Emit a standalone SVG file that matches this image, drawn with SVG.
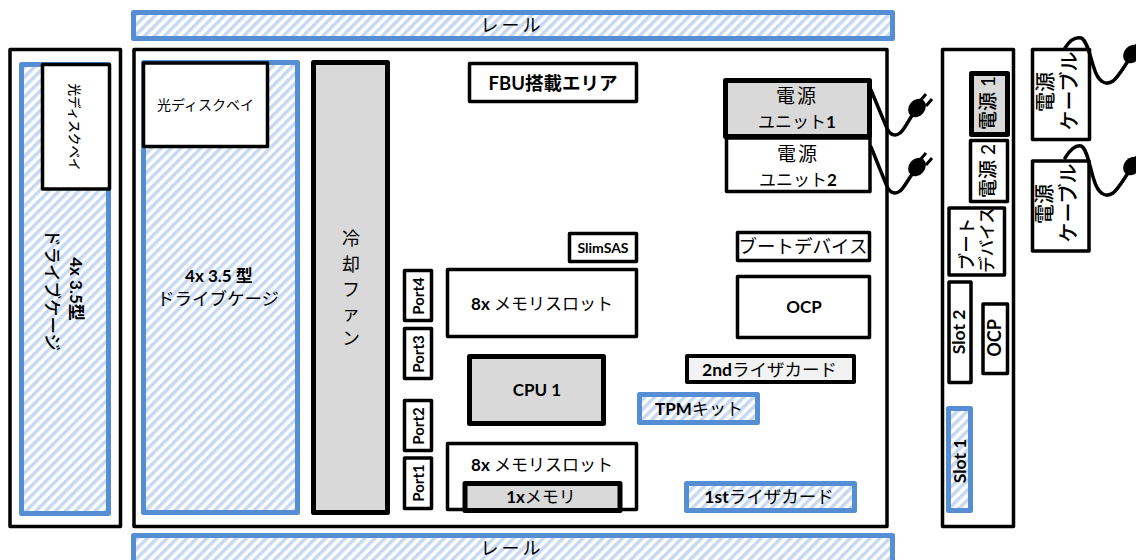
<svg xmlns="http://www.w3.org/2000/svg" width="1136" height="560" viewBox="0 0 1136 560">
<style>
text{font-family:Lato,"Noto Sans CJK JP","Liberation Sans",sans-serif;font-size:17px;fill:#000;text-anchor:middle}
.b{font-weight:700}
.m{font-weight:500}
.box{fill:#fff;stroke:#000;stroke-width:3.500;stroke-linejoin:round}
.grey{fill:#d9d9d9;stroke:#000;stroke-width:5;stroke-linejoin:round}
.hatch{fill:url(#h);stroke:#558ed5;stroke-width:5;stroke-linejoin:round}
.cable{fill:none;stroke:#000;stroke-width:3.500;stroke-linecap:round}
.prong{stroke:#000;stroke-width:3;fill:none}
</style>
<defs>
<pattern id="h" width="7" height="7" patternUnits="userSpaceOnUse" patternTransform="rotate(45)">
<rect width="7" height="7" fill="#fff"/>
<rect width="3.500" height="7" fill="#c6d9f1"/>
</pattern>
<g id="plug">
<ellipse cx="0" cy="-2" rx="8" ry="10" transform="rotate(40 0 -2)" fill="#000"/>
<path class="prong" d="M3 -9L9 -16M9 -4L15 -11"/>
</g>
</defs>

<g id="rail-top"><rect class="hatch" x="133.500" y="12.500" width="759" height="26"/><text x="512" y="32" letter-spacing="3" style="font-size:18px">レール</text></g>
<g id="rail-bottom"><rect class="hatch" x="133.500" y="535.500" width="759" height="30"/><text x="512" y="555" letter-spacing="3" style="font-size:18px">レール</text></g>

<g id="left-chassis"><rect class="box" x="10" y="49.500" width="110.500" height="477"/></g>
<g id="left-cage"><rect class="hatch" x="21.500" y="64.500" width="87" height="449"/>
<text transform="translate(70 289) rotate(90)" class="b" style="font-size:17px">4x 3.5型</text>
<text transform="translate(46 290) rotate(90)" class="m" style="font-size:17.500px">ドライブケージ</text></g>
<g id="left-optical"><rect class="box" x="42.500" y="64.500" width="67" height="124.500"/><text transform="translate(70 127) rotate(90)" class="m" style="font-size:13px" textLength="87" lengthAdjust="spacingAndGlyphs">光ディスクベイ</text></g>

<g id="main-chassis"><rect class="box" x="134" y="49.500" width="753" height="477"/></g>
<g id="cage"><rect class="hatch" x="143.500" y="62.500" width="154" height="450"/>
<text x="219" y="282" class="b" style="font-size:17px">4x 3.5 型</text>
<text x="218" y="305" style="font-size:17.500px">ドライブケージ</text></g>
<g id="optical"><rect class="box" x="143.500" y="63" width="124" height="83.500"/><text x="205.500" y="110" style="font-size:14px">光ディスクベイ</text></g>
<g id="fan"><rect class="grey" x="313.500" y="62.500" width="74" height="450"/>
<text style="font-size:18px"><tspan x="351" y="245">冷</tspan><tspan x="351" y="271">却</tspan><tspan x="351" y="296">フ</tspan><tspan x="351" y="320">ァ</tspan><tspan x="351" y="345">ン</tspan></text></g>
<g id="fbu"><rect class="box" x="469.500" y="63.500" width="167" height="38"/><text x="553" y="90" class="b" style="font-size:18.500px">FBU搭載エリア</text></g>
<g id="psu1"><rect class="grey" x="725.500" y="80.500" width="144" height="56"/><text x="797" y="103" letter-spacing="2" style="font-size:19px">電源</text><text x="797" y="128">ユニット<tspan class="b">1</tspan></text></g>
<g id="psu2"><rect class="box" x="726.500" y="138" width="143.500" height="53.500"/><text x="798" y="161" letter-spacing="2" style="font-size:19px">電源</text><text x="798" y="186">ユニット<tspan class="b">2</tspan></text></g>
<g id="boot"><rect class="box" x="737.500" y="232.500" width="132" height="28"/><text x="803" y="253" style="font-size:18.500px">ブートデバイス</text></g>
<g id="ocp"><rect class="box" x="737.500" y="276.500" width="132" height="61"/><text x="804" y="313" class="b">OCP</text></g>
<g id="slimsas"><rect class="box" x="569.500" y="233.500" width="67" height="28"/><text x="603" y="253" class="b" style="font-size:14px">SlimSAS</text></g>
<g id="mem-top"><rect class="box" x="447.500" y="269.500" width="189" height="67"/><text x="542" y="310"><tspan class="b">8x </tspan>メモリスロット</text></g>
<g id="cpu"><rect class="grey" x="469.500" y="356.500" width="134" height="67"/><text x="537" y="396" class="b" style="font-size:17px">CPU 1</text></g>
<g id="mem-bottom"><rect class="box" x="447.500" y="443.500" width="189" height="66"/><text x="542" y="471"><tspan class="b">8x </tspan>メモリスロット</text></g>
<g id="mem-one"><rect class="grey" x="465" y="483.500" width="155" height="27"/><text x="541" y="503"><tspan class="b">1x</tspan>メモリ</text></g>
<g id="port4"><rect class="box" x="404.500" y="270.500" width="27" height="50"/><text transform="translate(423.500 296) rotate(-90)" class="b" style="font-size:15px">Port4</text></g>
<g id="port3"><rect class="box" x="404.500" y="328.500" width="27" height="50"/><text transform="translate(423.500 354) rotate(-90)" class="b" style="font-size:15px">Port3</text></g>
<g id="port2"><rect class="box" x="404.500" y="400.500" width="27" height="50"/><text transform="translate(423.500 426) rotate(-90)" class="b" style="font-size:15px">Port2</text></g>
<g id="port1"><rect class="box" x="404.500" y="458" width="27" height="50.500"/><text transform="translate(423.500 483) rotate(-90)" class="b" style="font-size:15px">Port1</text></g>
<g id="riser2"><rect x="687" y="356" width="167" height="26" fill="#f2f2f2" stroke="#000" stroke-width="4" stroke-linejoin="round"/><text x="769.500" y="376" style="font-size:17.500px"><tspan class="b">2nd</tspan>ライザカード</text></g>
<g id="tpm"><rect class="hatch" x="639.500" y="394.500" width="118" height="28"/><text x="699" y="415"><tspan class="b">TPM</tspan>キット</text></g>
<g id="riser1"><rect class="hatch" x="686.500" y="483.500" width="168" height="27"/><text x="769" y="503" style="font-size:17.500px"><tspan class="b">1st</tspan>ライザカード</text></g>

<g id="rear-chassis"><rect class="box" x="942.500" y="49.500" width="71" height="477"/></g>
<g id="rear-psu1"><rect class="grey" x="971.500" y="73.500" width="36" height="61"/><text transform="translate(995 103) rotate(-90)" class="m" style="font-size:19px">電源 1</text></g>
<g id="rear-psu2"><rect class="box" x="970.500" y="140.500" width="37" height="61"/><text transform="translate(995 171) rotate(-90)" class="m" style="font-size:19px">電源 2</text></g>
<g id="rear-boot"><rect class="box" x="949" y="208" width="55.500" height="67"/><text transform="translate(973 244) rotate(-90)" class="m" style="font-size:17.500px">ブート</text><text transform="translate(993 240) rotate(-90)" class="m" style="font-size:16.500px">デバイス</text></g>
<g id="rear-slot2"><rect class="box" x="949" y="282" width="22" height="100.500"/><text transform="translate(965 332) rotate(-90)" class="b" style="font-size:17.500px">Slot 2</text></g>
<g id="rear-ocp"><rect class="box" x="983" y="304" width="24.500" height="69.500"/><text transform="translate(1001 338) rotate(-90)" class="b" style="font-size:18px">OCP</text></g>
<g id="rear-slot1"><rect class="hatch" x="948.500" y="408.500" width="22" height="102"/><text transform="translate(966 461) rotate(-90)" class="b" style="font-size:17.500px">Slot 1</text></g>
<g id="cable-box1"><rect class="box" x="1032.500" y="49.500" width="57" height="90"/><text transform="translate(1053 92) rotate(-90)" class="m" style="font-size:20px">電源</text><text transform="translate(1077 91) rotate(-90)" class="m" style="font-size:20px">ケーブル</text></g>
<g id="cable-box2"><rect class="box" x="1032.500" y="161" width="56.500" height="90"/><text transform="translate(1052 204) rotate(-90)" class="m" style="font-size:20px">電源</text><text transform="translate(1076 203) rotate(-90)" class="m" style="font-size:20px">ケーブル</text></g>

<g id="connectors">
<path class="cable" d="M871 90L886 126C889 135 895 137 900 133C904 130 907 123 913 114"/>
<path class="cable" d="M871 147L886 184C889 193 895 195 900 191C904 188 907 181 913 173"/>
<path class="cable" d="M1065 48C1070 40 1076 37 1081 38C1087 40 1090 56 1094 68C1098 82 1106 86 1113 81C1118 77 1122 70 1128 61"/>
<path class="cable" d="M1065 158C1070 150 1076 145 1081 146C1087 148 1090 168 1094 180C1098 194 1106 198 1113 193C1118 189 1122 182 1128 173"/>
<use href="#plug" x="917" y="110"/>
<use href="#plug" x="917" y="169"/>
<use href="#plug" x="1132" y="56"/>
<use href="#plug" x="1132" y="168"/>
</g>
</svg>
